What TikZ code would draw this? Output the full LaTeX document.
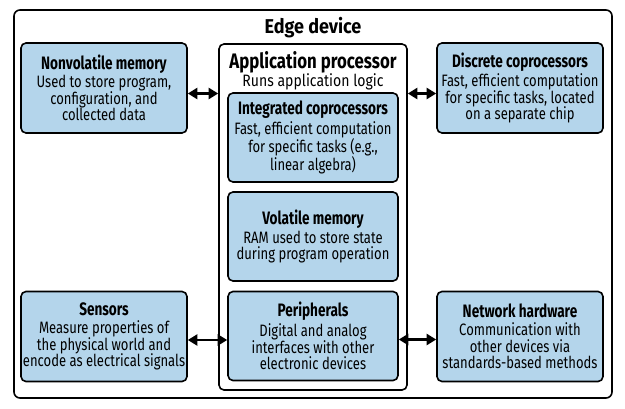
\documentclass[tikz,border=0pt]{standalone}
\usepackage{fontspec}
\setmainfont{Fira Sans}[FakeStretch=0.79]
\newfontfamily\hdfont{Fira Sans}[FakeStretch=0.755]
\newfontfamily\apfont{Fira Sans}[FakeStretch=0.80]
\newfontfamily\apsub{Fira Sans}[FakeStretch=0.85]
\newfontfamily\ttlfont{Fira Sans}[FakeStretch=0.90]
\usetikzlibrary{arrows.meta}
\definecolor{boxblue}{RGB}{180,213,235}
\tikzset{
  x=1pt,y=-1pt,
  frame/.style={draw, line width=1.6pt, rounded corners=6pt, fill=white},
  bluebox/.style={draw, line width=1.6pt, rounded corners=5pt, fill=boxblue,
    align=center, inner sep=1pt, font=\fontsize{16.5}{16.5}\selectfont},
  sidebox/.style={bluebox, minimum width=166pt, minimum height=90pt},
  innerbox/.style={bluebox, minimum width=170pt, minimum height=89pt},
  arr/.style={line width=2.2pt, {Triangle[length=9.5pt,width=11pt]}-{Triangle[length=9.5pt,width=11pt]}},
}
\newcommand{\hd}[1]{{\hdfont\fontsize{18}{16.5}\selectfont\bfseries #1}}
\begin{document}
\begin{tikzpicture}
\useasboundingbox (0,0) rectangle (625,408);
\node[frame, minimum width=598pt, minimum height=388pt] (edge) at (313,204) {};
\node[font=\ttlfont\fontsize{20}{20}\selectfont\bfseries] (title) at (313,28) {Edge device};
\node[frame, minimum width=188pt, minimum height=346pt, rounded corners=5pt] (app) at (313,217) {};
\node[align=center, inner sep=0pt, font=\apsub\fontsize{16.5}{18}\selectfont] (apptext) at (313,71)
  {{\apfont\fontsize{21}{18}\selectfont\bfseries Application processor}\\Runs application logic};
\node[innerbox] (integ) at (313,137.5)
  {\hd{Integrated coprocessors}\\[2pt]Fast, efficient computation\\for specific tasks (e.g.,\\linear algebra)};
\node[innerbox] (vol) at (313,236.5)
  {\hd{Volatile memory}\\[2pt]RAM used to store state\\during program operation};
\node[innerbox] (per) at (313,336)
  {\hd{Peripherals}\\[2pt]Digital and analog\\interfaces with other\\electronic devices};
\node[sidebox] (nvm) at (104,88)
  {\hd{Nonvolatile memory}\\[2pt]Used to store program,\\configuration, and\\collected data};
\node[sidebox] (disc) at (520,88)
  {\hd{Discrete coprocessors}\\[2pt]Fast, efficient computation\\for specific tasks, located\\on a separate chip};
\node[sidebox] (sens) at (104,336.5)
  {\hd{Sensors}\\[2pt]Measure properties of\\the physical world and\\encode as electrical signals};
\node[sidebox] (net) at (520,336.5)
  {\hd{Network hardware}\\[2pt]Communication with\\other devices via\\standards-based methods};
\draw[arr] ([yshift=-5.5pt]nvm.east) -- ([yshift=-5.5pt]nvm.east -| app.west);
\draw[arr] ([yshift=-5.5pt]app.east |- disc.west) -- ([yshift=-5.5pt]disc.west);
\draw[arr] ([yshift=-3.5pt]sens.east) -- ([yshift=-3.5pt]sens.east -| per.west);
\draw[arr] ([yshift=-3.5pt]per.east) -- ([yshift=-3.5pt]per.east -| net.west);
\end{tikzpicture}
\end{document}
